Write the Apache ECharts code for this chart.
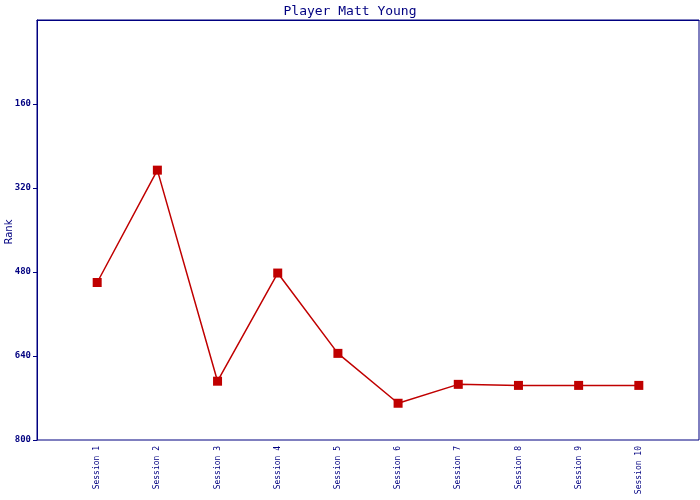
<!DOCTYPE html>
<html>
<head>
<meta charset="utf-8">
<script src="https://cdn.jsdelivr.net/npm/echarts@6/dist/echarts.min.js"></script>
<style>html,body{margin:0;padding:0;background:#fff}#c{width:700px;height:500px}</style>
</head>
<body>
<div id="c"></div>
<script>
const categories = ['', 'Session 1', 'Session 2', 'Session 3', 'Session 4', 'Session 5', 'Session 6', 'Session 7', 'Session 8', 'Session 9', 'Session 10', ''];
const rankValues = [null, 500, 286, 688, 482, 635, 730, 694, 696, 696, 696, null];
const yTicks = [0, 160, 320, 480, 640, 800];
const yAxisTitle = 'Rank';

const navy = '#000080';
const chart = echarts.init(document.getElementById('c'), null, {renderer: 'canvas'});
chart.setOption({
  animation: false,
  backgroundColor: '#fff',
  title: {
    text: 'Player Matt Young',
    left: 'center',
    top: 0,
    textStyle: {color: navy, fontFamily: 'DejaVu Sans Mono', fontSize: 13, fontWeight: 'normal'}
  },
  graphic: [{
    type: 'text',
    x: 9,
    y: 232,
    rotation: Math.PI / 2,
    style: {text: yAxisTitle, fill: navy, font: '10px "DejaVu Sans"', align: 'center', verticalAlign: 'middle'}
  }],
  grid: {left: 37, right: 1, top: 20, bottom: 60, show: true, borderColor: navy, borderWidth: 1,
         containLabel: false, outerBoundsMode: 'none'},
  xAxis: {
    type: 'category',
    data: categories,
    boundaryGap: false,
    axisLine: {lineStyle: {color: navy, width: 1}},
    axisTick: {show: false},
    splitLine: {show: false},
    axisLabel: {
      rotate: 90, color: navy, fontFamily: 'DejaVu Sans Mono', fontSize: 8, margin: 6,
      interval: 0
    }
  },
  yAxis: {
    type: 'value',
    inverse: true,
    min: yTicks[0],
    max: yTicks[yTicks.length - 1],
    interval: yTicks[1] - yTicks[0],
    axisLine: {show: true, lineStyle: {color: navy, width: 1}},
    axisTick: {show: true, inside: false, length: 4, lineStyle: {color: navy, width: 1}},
    splitLine: {show: false},
    axisLabel: {
      color: navy, fontFamily: 'DejaVu Sans Mono', fontSize: 9, fontWeight: 'bold', margin: 6,
      showMinLabel: false,
      formatter: v => (v === 0 ? '' : String(v))
    }
  },
  series: [{
    type: 'line',
    data: rankValues,
    connectNulls: false,
    symbol: 'rect',
    symbolSize: 9,
    itemStyle: {color: '#C00000'},
    lineStyle: {color: '#C00000', width: 1.5}
  }]
});
</script>
</body>
</html>
